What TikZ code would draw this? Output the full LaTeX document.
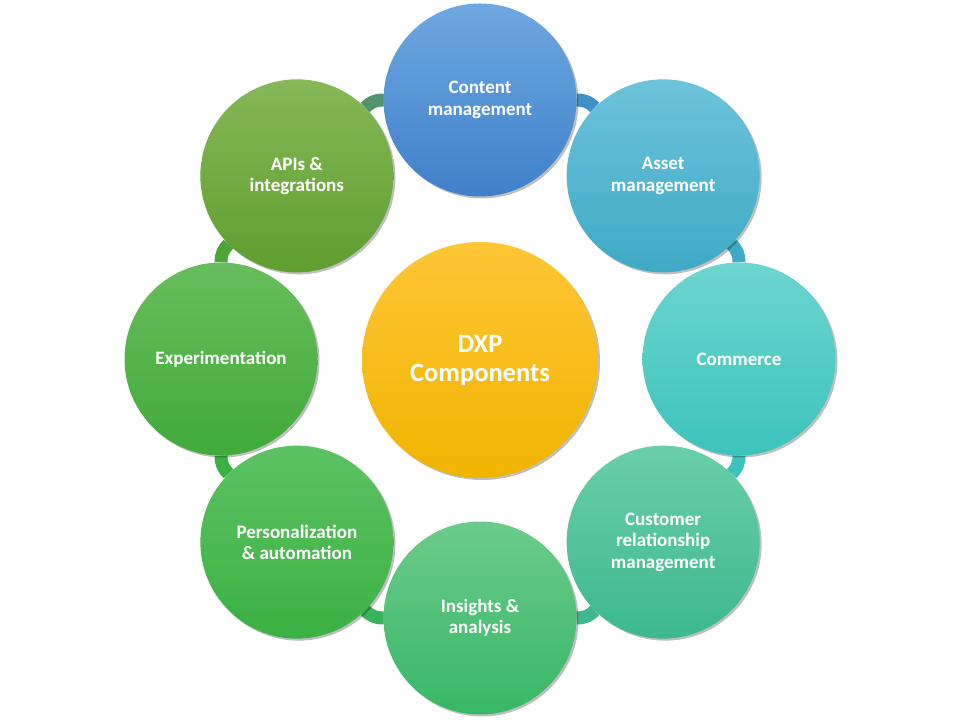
\documentclass[tikz,border=0pt]{standalone}
\usepackage{fontspec}
\setmainfont{Carlito}
\usetikzlibrary{shadows,backgrounds,calc}
\definecolor{cAt}{HTML}{6EA8E0}\definecolor{cAb}{HTML}{3F80CA}
\definecolor{cBt}{HTML}{6EC3DC}\definecolor{cBb}{HTML}{3EAAC6}
\definecolor{cCt}{HTML}{6DD5D0}\definecolor{cCb}{HTML}{3CC3BB}
\definecolor{cDt}{HTML}{6ACFA8}\definecolor{cDb}{HTML}{3DB88F}
\definecolor{cEt}{HTML}{6CCB8A}\definecolor{cEb}{HTML}{37B766}
\definecolor{cFt}{HTML}{5DC262}\definecolor{cFb}{HTML}{3BB143}
\definecolor{cGt}{HTML}{68BD5C}\definecolor{cGb}{HTML}{42AA3B}
\definecolor{cHt}{HTML}{86B857}\definecolor{cHb}{HTML}{5F9E30}
\definecolor{cMt}{HTML}{FFC637}\definecolor{cMb}{HTML}{F0B400}
\begin{document}
\begin{tikzpicture}[x=1pt,y=1pt,
  outer/.style={circle, minimum size=193pt, inner sep=0pt, text=white,
    font=\bfseries\fontsize{19}{21.5}\selectfont, align=center,
    drop shadow={shadow xshift=2pt, shadow yshift=-2pt, opacity=0.25, fill=black}},
  hub/.style={circle, minimum size=236pt, inner sep=0pt, text=white,
    font=\bfseries\fontsize{26.5}{29}\selectfont, align=center,
    drop shadow={shadow xshift=2pt, shadow yshift=-2pt, opacity=0.25, fill=black},
    top color=cMt, bottom color=cMb},
  conn/.style={line width=13pt, bend left=22.5}]
\useasboundingbox (0,0) rectangle (960,720);
\coordinate (O) at (480,361);
\node[outer, top color=cAt, bottom color=cAb] (c1) at ($(O)+(90:259)$) {Content\\management};
\node[outer, top color=cBt, bottom color=cBb] (c2) at ($(O)+(45:259)$) {Asset\\management};
\node[outer, top color=cCt, bottom color=cCb] (c3) at ($(O)+(0:259)$) {Commerce};
\node[outer, top color=cDt, bottom color=cDb] (c4) at ($(O)+(-45:259)$) {Customer\\relationship\\management};
\node[outer, top color=cEt, bottom color=cEb] (c5) at ($(O)+(-90:259)$) {Insights \&\\analysis};
\node[outer, top color=cFt, bottom color=cFb] (c6) at ($(O)+(-135:259)$) {Personalization\\\& automation};
\node[outer, top color=cGt, bottom color=cGb] (c7) at ($(O)+(180:259)$) {Experimentation};
\node[outer, top color=cHt, bottom color=cHb] (c8) at ($(O)+(135:259)$) {APIs \&\\integrations};
\node[hub] (hub) at (480,360) {DXP\\Components};
\begin{scope}[on background layer]
\fill[white] (0,0) rectangle (960,720);
\draw[conn, draw=cAb!60!cBb] (c1) to (c2);
\draw[conn, draw=cBb] (c2) to (c3);
\draw[conn, draw=cCb] (c3) to (c4);
\draw[conn, draw=cDb] (c4) to (c5);
\draw[conn, draw=cEb!70!cFb] (c5) to (c6);
\draw[conn, draw=cFb] (c6) to (c7);
\draw[conn, draw=cGb!60!cHb] (c7) to (c8);
\draw[conn, draw=cHb!60!cAb] (c8) to (c1);
\end{scope}
\end{tikzpicture}
\end{document}
